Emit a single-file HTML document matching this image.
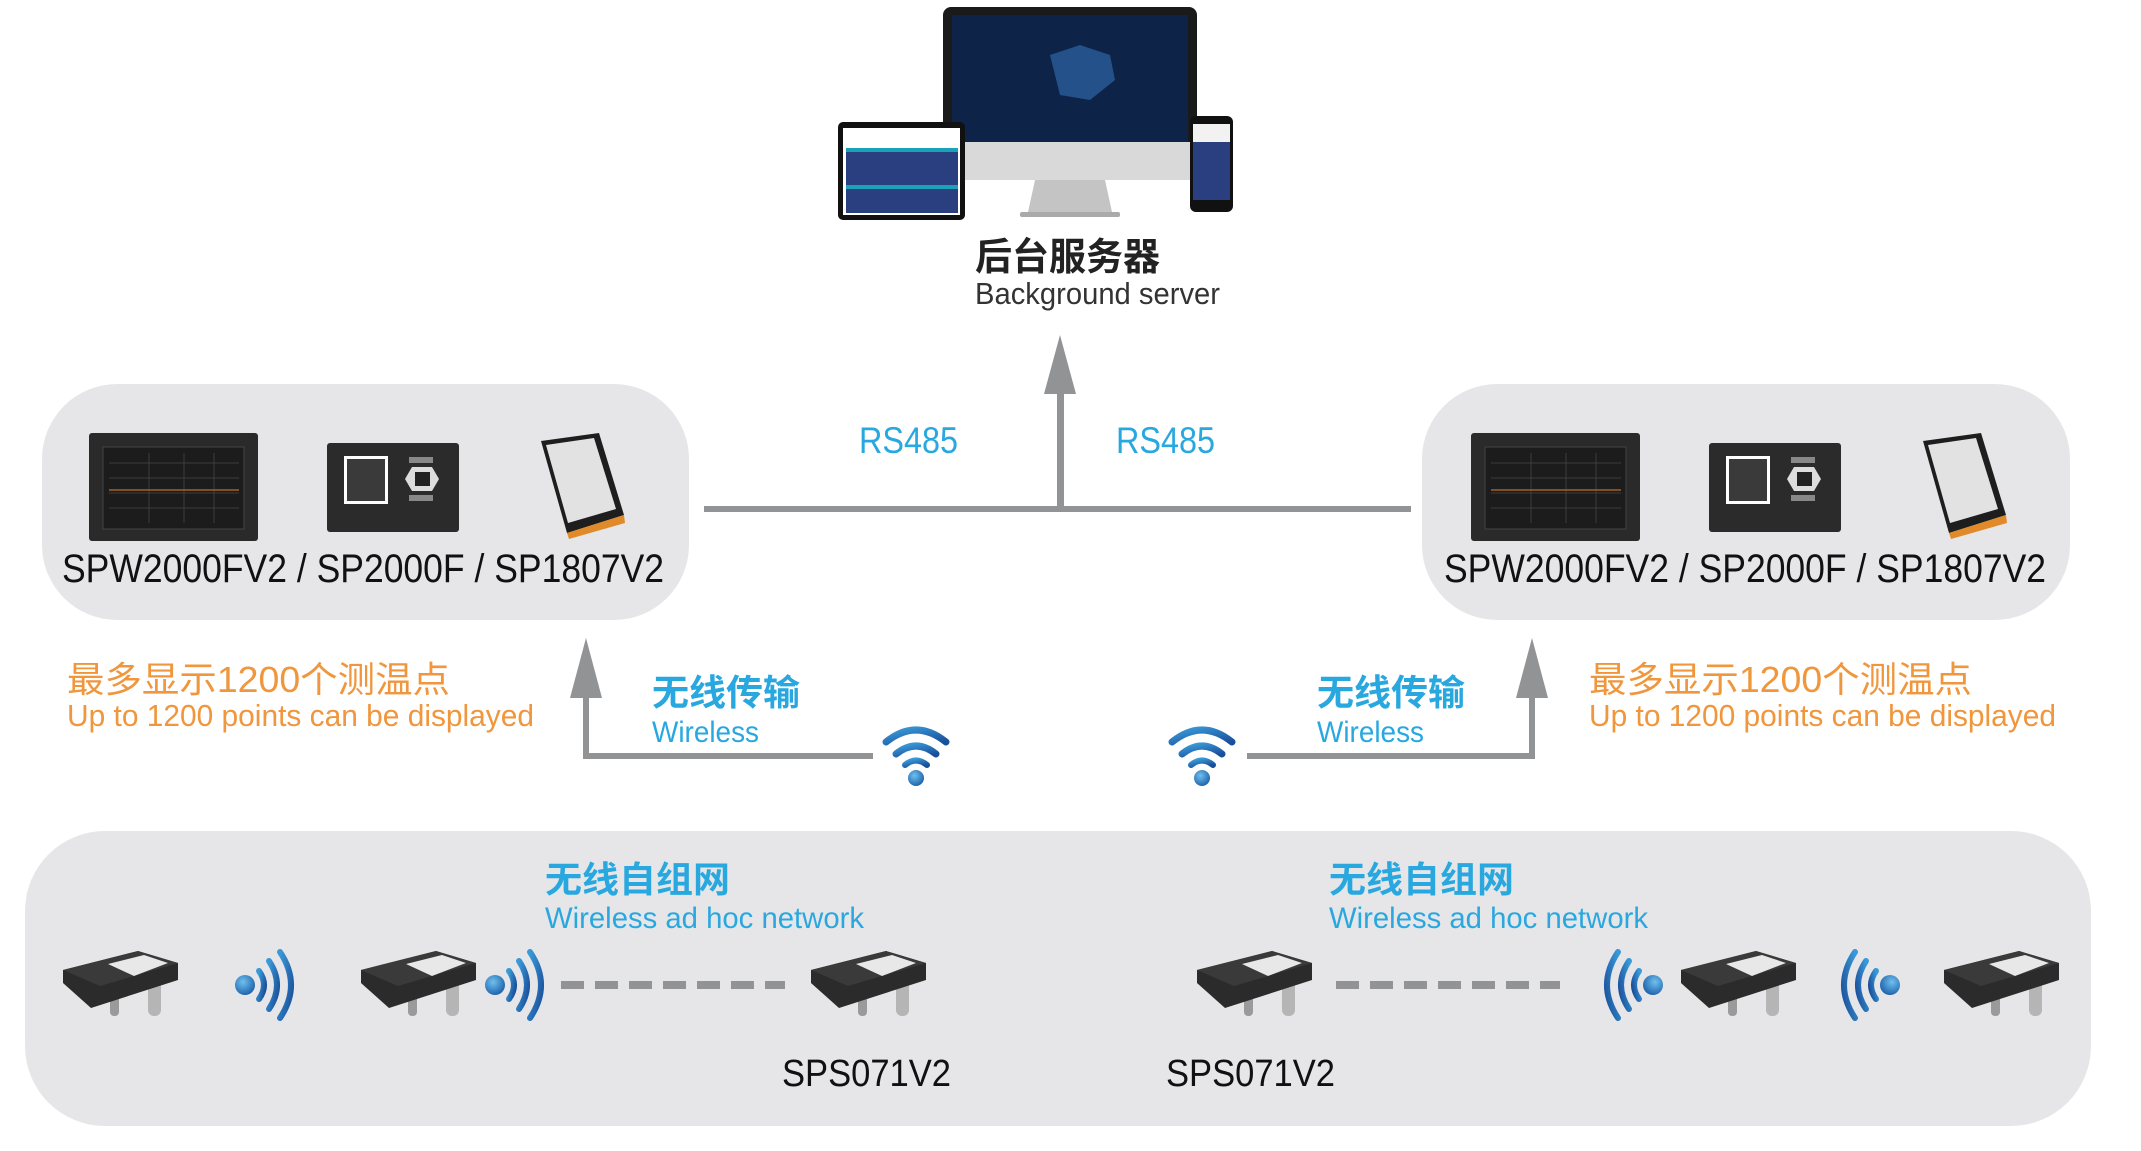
<!DOCTYPE html>
<html><head><meta charset="utf-8"><style>
html,body{margin:0;padding:0;background:#fff;}
svg{display:block;}
text{font-family:"Liberation Sans","Noto Sans CJK SC",sans-serif;}
</style></head><body>
<svg width="2141" height="1151" viewBox="0 0 2141 1151" xmlns="http://www.w3.org/2000/svg">
<defs>
<linearGradient id="wv" x1="0" y1="0" x2="1" y2="1"><stop offset="0" stop-color="#3a9ad8"/><stop offset="1" stop-color="#1a4f9a"/></linearGradient>
<radialGradient id="dot" cx="0.4" cy="0.35" r="0.7"><stop offset="0" stop-color="#6fc0ee"/><stop offset="1" stop-color="#1b5fa8"/></radialGradient>
<g id="sensor">
  <rect x="48" y="36" width="9" height="30" rx="4" fill="#9a9a9a"/>
  <rect x="86" y="28" width="13" height="38" rx="6" fill="#b5b5b5"/>
  <path d="M1 20 L76 1 L116 13 L116 30 L29 58 L1 33 Z" fill="#2b2b2b"/>
  <path d="M1 20 L76 1 L116 13 L38 36 Z" fill="#3a3a3a"/>
  <path d="M46 14 L82 5 L106 13 L72 26 Z" fill="#e8e8e8"/>
</g>
<g id="waveR">
  <circle cx="0" cy="0" r="10" fill="url(#dot)"/>
  <path d="M14 -14 Q24 0 14 14" stroke="url(#wv)" stroke-width="6" fill="none" stroke-linecap="round"/>
  <path d="M24 -24 Q40 0 24 24" stroke="url(#wv)" stroke-width="6" fill="none" stroke-linecap="round"/>
  <path d="M35 -33 Q57 0 35 33" stroke="url(#wv)" stroke-width="6" fill="none" stroke-linecap="round"/>
</g>
<g id="wifi">
  <path d="M-30 -22 Q0 -46 30 -22" stroke="url(#wv)" stroke-width="7" fill="none" stroke-linecap="round"/>
  <path d="M-20 -10 Q0 -26 20 -10" stroke="url(#wv)" stroke-width="7" fill="none" stroke-linecap="round"/>
  <path d="M-11 1 Q0 -8 11 1" stroke="url(#wv)" stroke-width="6" fill="none" stroke-linecap="round"/>
  <circle cx="0" cy="14" r="8" fill="url(#dot)"/>
</g>
<g id="devs">
  <rect x="0" y="0" width="169" height="108" rx="3" fill="#2a2a2a"/>
  <rect x="14" y="14" width="141" height="82" fill="#1c1c1c" stroke="#444"/>
  <g stroke="#3d3d3d" stroke-width="1">
   <line x1="20" y1="30" x2="150" y2="30"/><line x1="20" y1="45" x2="150" y2="45"/><line x1="20" y1="60" x2="150" y2="60"/><line x1="20" y1="75" x2="150" y2="75"/>
   <line x1="60" y1="20" x2="60" y2="90"/><line x1="95" y1="20" x2="95" y2="90"/><line x1="125" y1="20" x2="125" y2="90"/>
  </g>
  <line x1="20" y1="57" x2="150" y2="57" stroke="#a0622a" stroke-width="1.5"/>
  <rect x="238" y="10" width="132" height="89" rx="3" fill="#2b2b2b"/>
  <rect x="255" y="23" width="44" height="48" fill="#fff"/>
  <rect x="258" y="26" width="38" height="42" fill="#3a3a3a"/>
  <path d="M323 34 L343 34 L350 46 L343 58 L323 58 L316 46 Z" fill="#ddd"/>
  <rect x="326" y="39" width="15" height="14" fill="#222"/>
  <rect x="320" y="24" width="24" height="6" fill="#888"/><rect x="320" y="62" width="24" height="6" fill="#888"/>
  <path d="M452 8 L510 0 L535 82 L478 100 Z" fill="#1e1e1e"/>
  <path d="M457 12 L505 5 L527 76 L479 90 Z" fill="#e2e2e2"/>
  <path d="M478 100 L535 82 L536 90 L480 106 Z" fill="#e08a2a"/>
</g>
</defs>

<rect x="42" y="384" width="647" height="236" rx="75" fill="#e6e6e8"/>
<rect x="1422" y="384" width="648" height="236" rx="75" fill="#e6e6e8"/>
<rect x="25" y="831" width="2066" height="295" rx="80" fill="#e6e6e8"/>

<rect x="943" y="7" width="254" height="150" rx="8" fill="#1a1a1a"/>
<rect x="952" y="15" width="236" height="127" fill="#0e2348"/>
<path d="M1050 55 L1080 45 L1110 55 L1115 80 L1090 100 L1060 95 Z" fill="#2a5d9a" opacity="0.8"/>
<rect x="943" y="142" width="254" height="38" fill="#d9d9d9"/>
<path d="M1035 180 L1105 180 L1112 212 L1028 212 Z" fill="#c4c4c4"/>
<rect x="1020" y="212" width="100" height="5" rx="2" fill="#aaa"/>
<rect x="838" y="122" width="127" height="98" rx="5" fill="#111"/>
<rect x="843" y="128" width="117" height="87" fill="#fff"/>
<rect x="846" y="148" width="112" height="65" fill="#2a3f80"/>
<rect x="846" y="148" width="112" height="4" fill="#1aa3b8"/><rect x="846" y="185" width="112" height="4" fill="#1aa3b8"/>
<rect x="1190" y="116" width="43" height="96" rx="6" fill="#111"/>
<rect x="1193" y="124" width="37" height="76" fill="#2a3f80"/>
<rect x="1193" y="124" width="37" height="18" fill="#f2f2f2"/>
<text x="975" y="270" font-size="38" font-weight="bold" fill="#222" textLength="185" lengthAdjust="spacingAndGlyphs">后台服务器</text>
<text x="975" y="304" font-size="31" fill="#333" textLength="245" lengthAdjust="spacingAndGlyphs">Background server</text>

<rect x="704" y="506" width="707" height="6" fill="#929395"/>
<rect x="1057" y="390" width="7" height="120" fill="#929395"/>
<polygon points="1060,335 1044,394 1076,394" fill="#929395"/>
<text x="859" y="453" font-size="37" fill="#29a8e0" textLength="99" lengthAdjust="spacingAndGlyphs">RS485</text>
<text x="1116" y="453" font-size="37" fill="#29a8e0" textLength="99" lengthAdjust="spacingAndGlyphs">RS485</text>

<use href="#devs" x="89" y="433"/>
<use href="#devs" x="1471" y="433"/>
<text x="62" y="582" font-size="40" fill="#111" textLength="602" lengthAdjust="spacingAndGlyphs">SPW2000FV2 / SP2000F / SP1807V2</text>
<text x="1444" y="582" font-size="40" fill="#111" textLength="602" lengthAdjust="spacingAndGlyphs">SPW2000FV2 / SP2000F / SP1807V2</text>

<rect x="583" y="690" width="6" height="69" fill="#929395"/>
<polygon points="586,638 570,698 602,698" fill="#929395"/>
<rect x="583" y="753" width="290" height="6" fill="#929395"/>
<rect x="1529" y="690" width="6" height="69" fill="#929395"/>
<polygon points="1532,638 1516,698 1548,698" fill="#929395"/>
<rect x="1247" y="753" width="288" height="6" fill="#929395"/>
<use href="#wifi" x="916" y="764"/>
<use href="#wifi" x="1202" y="764"/>

<text x="67" y="692" font-size="36" fill="#f0963c" textLength="383" lengthAdjust="spacingAndGlyphs">最多显示1200个测温点</text>
<text x="67" y="726" font-size="31" fill="#f0963c" textLength="467" lengthAdjust="spacingAndGlyphs">Up to 1200 points can be displayed</text>
<text x="1589" y="692" font-size="36" fill="#f0963c" textLength="383" lengthAdjust="spacingAndGlyphs">最多显示1200个测温点</text>
<text x="1589" y="726" font-size="31" fill="#f0963c" textLength="467" lengthAdjust="spacingAndGlyphs">Up to 1200 points can be displayed</text>

<text x="652" y="705" font-size="36" font-weight="bold" fill="#29a8e0" textLength="148" lengthAdjust="spacingAndGlyphs">无线传输</text>
<text x="652" y="742" font-size="30" fill="#29a8e0" textLength="107" lengthAdjust="spacingAndGlyphs">Wireless</text>
<text x="1317" y="705" font-size="36" font-weight="bold" fill="#29a8e0" textLength="148" lengthAdjust="spacingAndGlyphs">无线传输</text>
<text x="1317" y="742" font-size="30" fill="#29a8e0" textLength="107" lengthAdjust="spacingAndGlyphs">Wireless</text>

<text x="545" y="892" font-size="36" font-weight="bold" fill="#29a8e0" textLength="185" lengthAdjust="spacingAndGlyphs">无线自组网</text>
<text x="545" y="928" font-size="30" fill="#29a8e0" textLength="319" lengthAdjust="spacingAndGlyphs">Wireless ad hoc network</text>
<text x="1329" y="892" font-size="36" font-weight="bold" fill="#29a8e0" textLength="185" lengthAdjust="spacingAndGlyphs">无线自组网</text>
<text x="1329" y="928" font-size="30" fill="#29a8e0" textLength="319" lengthAdjust="spacingAndGlyphs">Wireless ad hoc network</text>

<use href="#sensor" x="62" y="950"/>
<use href="#sensor" x="360" y="950"/>
<use href="#sensor" x="810" y="950"/>
<use href="#sensor" x="1196" y="950"/>
<use href="#sensor" x="1680" y="950"/>
<use href="#sensor" x="1943" y="950"/>

<use href="#waveR" x="245" y="985"/>
<use href="#waveR" x="495" y="985"/>
<use href="#waveR" transform="translate(1653 985) scale(-1 1)"/>
<use href="#waveR" transform="translate(1890 985) scale(-1 1)"/>

<line x1="561" y1="985" x2="785" y2="985" stroke="#929395" stroke-width="8" stroke-dasharray="23 11"/>
<line x1="1336" y1="985" x2="1560" y2="985" stroke="#929395" stroke-width="8" stroke-dasharray="23 11"/>

<text x="782" y="1086" font-size="38" fill="#111" textLength="169" lengthAdjust="spacingAndGlyphs">SPS071V2</text>
<text x="1166" y="1086" font-size="38" fill="#111" textLength="169" lengthAdjust="spacingAndGlyphs">SPS071V2</text>
</svg>
</body></html>
